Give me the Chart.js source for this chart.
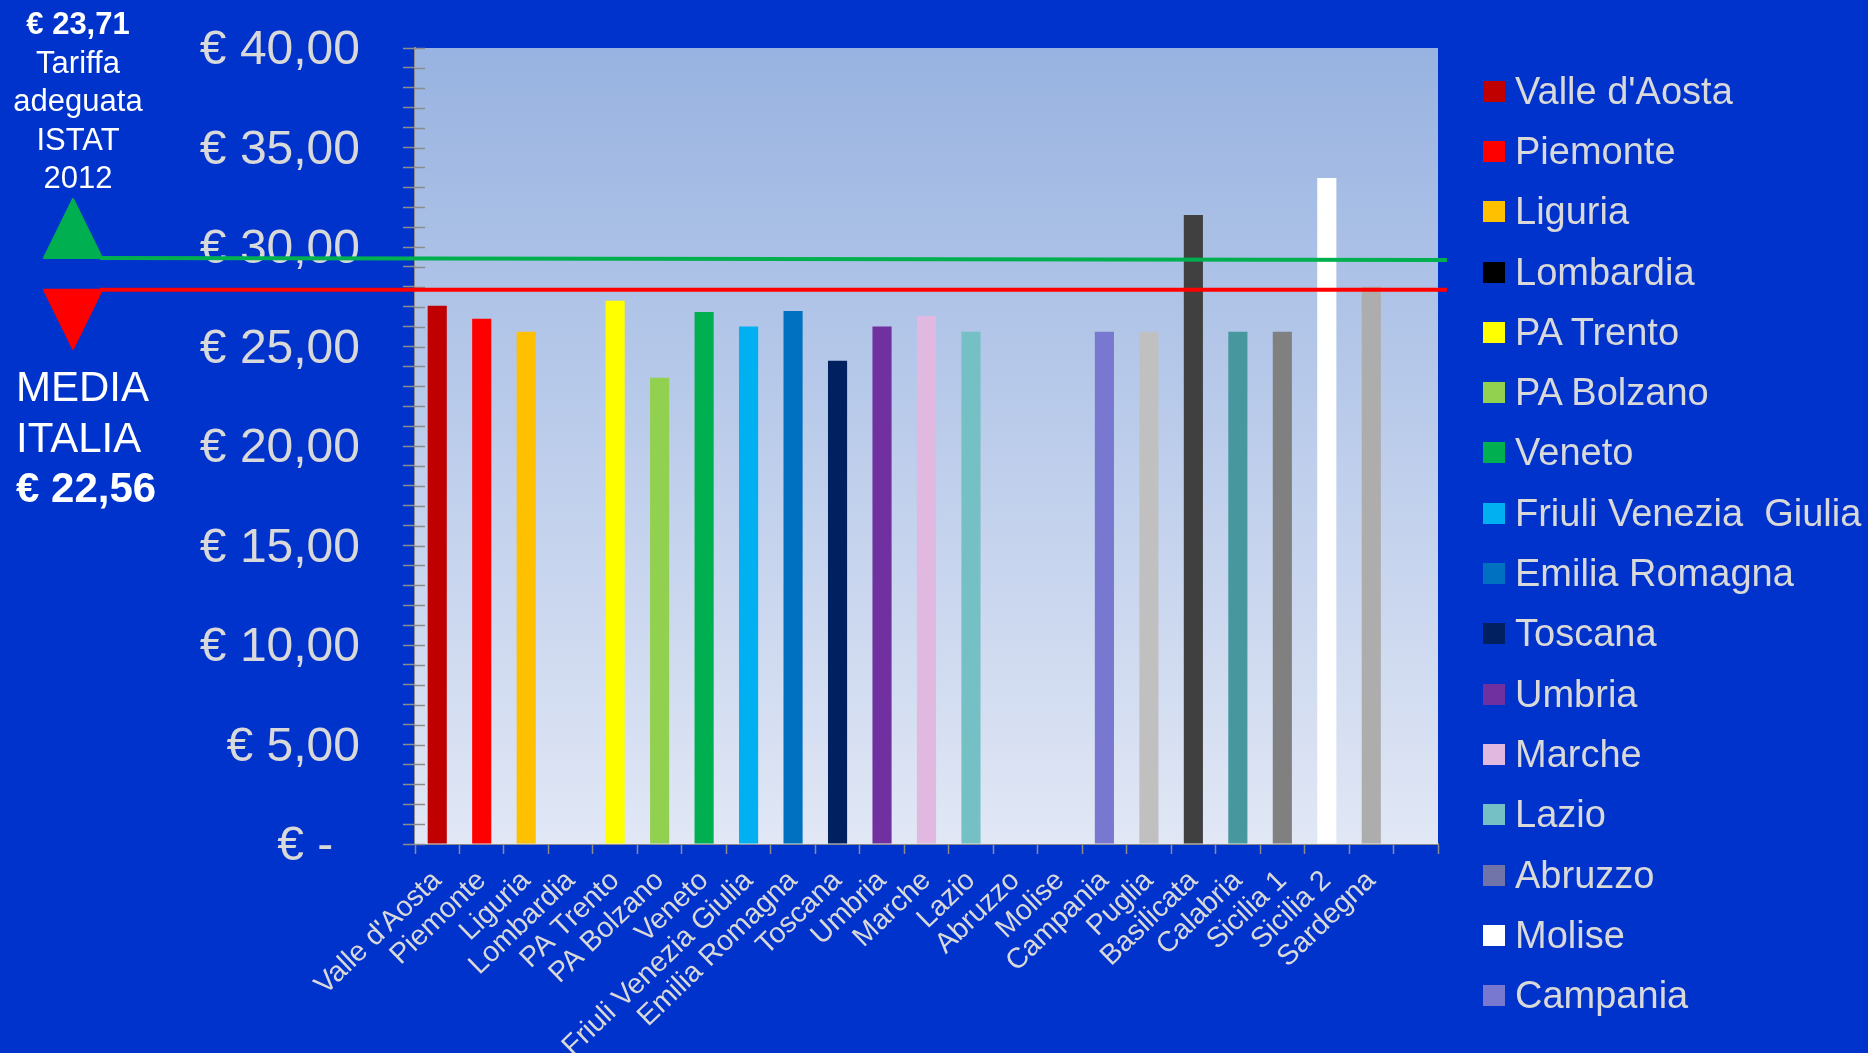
<!DOCTYPE html>
<html lang="it">
<head>
<meta charset="utf-8">
<title>Tariffe per regione</title>
<script src="https://cdn.jsdelivr.net/npm/chart.js@4.4.1/dist/chart.umd.min.js"></script>
<style>
  html, body { margin: 0; padding: 0; width: 1868px; height: 1053px; overflow: hidden; background: #0033CC; font-family: "Liberation Sans", Arial, sans-serif; }
  #wrap { position: absolute; left: 0; top: 0; width: 1868px; height: 1053px; }
  .note { position: absolute; color: #FFFFFF; }
  #tariffa { left: 0; top: 5px; width: 156px; text-align: center; font-size: 31px; line-height: 38.5px; }
  #media { left: 16px; top: 362px; font-size: 42px; line-height: 50.5px; }
  #legend { position: absolute; left: 1483px; top: 61px; color: #D9D9D9; font-size: 38px; }
  .item { height: 60.3px; display: flex; align-items: center; white-space: pre; }
  .sw { width: 22px; height: 21px; margin-right: 10px; flex: none; }
</style>
</head>
<body>
<div id="wrap"><canvas id="chart" width="1868" height="1053"></canvas></div>
<div class="note" id="tariffa"><b>€ 23,71</b><br>Tariffa<br>adeguata<br>ISTAT<br>2012</div>
<div class="note" id="media">MEDIA<br>ITALIA<br><b>€ 22,56</b></div>
<div id="legend"></div>
<script>
// dati
const categories = ["Valle d'Aosta", "Piemonte", "Liguria", "Lombardia", "PA Trento", "PA Bolzano",
  "Veneto", "Friuli Venezia Giulia", "Emilia Romagna", "Toscana", "Umbria", "Marche", "Lazio",
  "Abruzzo", "Molise", "Campania", "Puglia", "Basilicata", "Calabria", "Sicilia 1", "Sicilia 2",
  "Sardegna", ""];
const tariffe = [27.05, 26.40, 25.74, null, 27.30, 23.43,
  26.73, 26.01, 26.78, 24.29, 26.01, 26.53, 25.74,
  null, null, 25.74, 25.74, 31.61, 25.74, 25.74, 33.47,
  28.00, null];
const barColors = ["#C00000", "#FF0000", "#FFC000", "#000000", "#FFFF00", "#92D050",
  "#00B050", "#00B0F0", "#0070C0", "#002060", "#7030A0", "#E0B8E0", "#74C0C4",
  "#7074A8", "#FFFFFF", "#7878D0", "#C0C0C0", "#404040", "#47979F", "#808080", "#FFFFFF",
  "#ADADAD", "#000000"];
const legendLabels = ["Valle d'Aosta", "Piemonte", "Liguria", "Lombardia", "PA Trento", "PA Bolzano",
  "Veneto", "Friuli Venezia  Giulia", "Emilia Romagna", "Toscana", "Umbria", "Marche", "Lazio",
  "Abruzzo", "Molise", "Campania"];
// linee di riferimento (verde = tariffa ISTAT, rossa = media Italia), posizione sul grafico
const lineaTariffa = 29.45;
const lineaMedia = 27.85;

// legenda
const legendEl = document.getElementById("legend");
legendLabels.forEach((name, i) => {
  const row = document.createElement("div");
  row.className = "item";
  row.innerHTML = '<span class="sw" style="background:' + barColors[i] + '"></span>';
  row.appendChild(document.createTextNode(name));
  legendEl.appendChild(row);
});

const TICK_GRAY = "#8C8C8C";

const sfondo = {
  id: "sfondo",
  beforeDatasetsDraw(chart) {
    const { ctx, chartArea: a } = chart;
    const g = ctx.createLinearGradient(0, a.top, 0, a.bottom);
    g.addColorStop(0, "#98B3E1");
    g.addColorStop(1, "#E1E7F5");
    ctx.save();
    ctx.fillStyle = g;
    ctx.fillRect(a.left, a.top, a.right - a.left, a.bottom - a.top);
    // tacche interne asse y
    const y = chart.scales.y;
    ctx.strokeStyle = TICK_GRAY;
    ctx.lineWidth = 1.5;
    y.ticks.forEach(t => {
      const py = Math.round(y.getPixelForValue(t.value)) + 0.5;
      ctx.beginPath();
      ctx.moveTo(a.left, py);
      ctx.lineTo(a.left + 10, py);
      ctx.stroke();
    });
    ctx.restore();
  }
};

const riferimenti = {
  id: "riferimenti",
  afterDraw(chart) {
    const { ctx, chartArea: a } = chart;
    const y = chart.scales.y;
    const gy = y.getPixelForValue(lineaTariffa);
    const ry = y.getPixelForValue(lineaMedia);
    ctx.save();
    ctx.lineWidth = 4;
    ctx.strokeStyle = "#00B050";
    ctx.beginPath(); ctx.moveTo(100, gy); ctx.lineTo(a.right + 9, gy + 2); ctx.stroke();
    ctx.strokeStyle = "#FF0000";
    ctx.beginPath(); ctx.moveTo(100, ry); ctx.lineTo(a.right + 9, ry); ctx.stroke();
    ctx.lineJoin = "round";
    ctx.lineWidth = 2;
    ctx.fillStyle = ctx.strokeStyle = "#00B050";
    ctx.beginPath(); ctx.moveTo(44, gy); ctx.lineTo(73, gy - 59); ctx.lineTo(102, gy); ctx.closePath();
    ctx.fill(); ctx.stroke();
    ctx.fillStyle = ctx.strokeStyle = "#FF0000";
    ctx.beginPath(); ctx.moveTo(44, ry); ctx.lineTo(73, ry + 59); ctx.lineTo(102, ry); ctx.closePath();
    ctx.fill(); ctx.stroke();
    ctx.restore();
  }
};

new Chart(document.getElementById("chart"), {
  type: "bar",
  data: {
    labels: categories,
    datasets: [{
      label: "Tariffa",
      data: tariffe,
      backgroundColor: barColors,
      borderWidth: 0,
      barPercentage: 0.43,
      categoryPercentage: 1
    }]
  },
  options: {
    responsive: false,
    animation: false,
    layout: { padding: { top: 48, right: 430, bottom: 0, left: 0 } },
    plugins: { legend: { display: false }, tooltip: { enabled: false } },
    scales: {
      x: {
        afterFit(s) { s.height = 209; },
        grid: { drawOnChartArea: false, tickLength: 10, tickColor: TICK_GRAY, tickWidth: 1.5 },
        border: { color: TICK_GRAY, width: 2 },
        ticks: {
          color: "#D9D9D9",
          font: { family: "Liberation Sans", size: 28.5 },
          minRotation: 44, maxRotation: 44,
          autoSkip: false,
          padding: 10
        }
      },
      y: {
        min: 0, max: 40,
        afterFit(s) { s.width = 415; s.paddingTop = 0; s.paddingBottom = 0; },
        grid: { drawOnChartArea: false, tickLength: 12, tickColor: TICK_GRAY, tickWidth: 1.5 },
        border: { color: TICK_GRAY, width: 2 },
        ticks: {
          stepSize: 1,
          autoSkip: false,
          color: "#D9D9D9",
          font: { family: "Liberation Sans", size: 48 },
          padding: 43,
          labelOffset: 3,
          callback: v => v % 5 !== 0 ? "" : (v === 0 ? "€ -  " : "€ " + v.toFixed(2).replace(".", ","))
        }
      }
    }
  },
  plugins: [sfondo, riferimenti]
});
</script>
</body>
</html>
